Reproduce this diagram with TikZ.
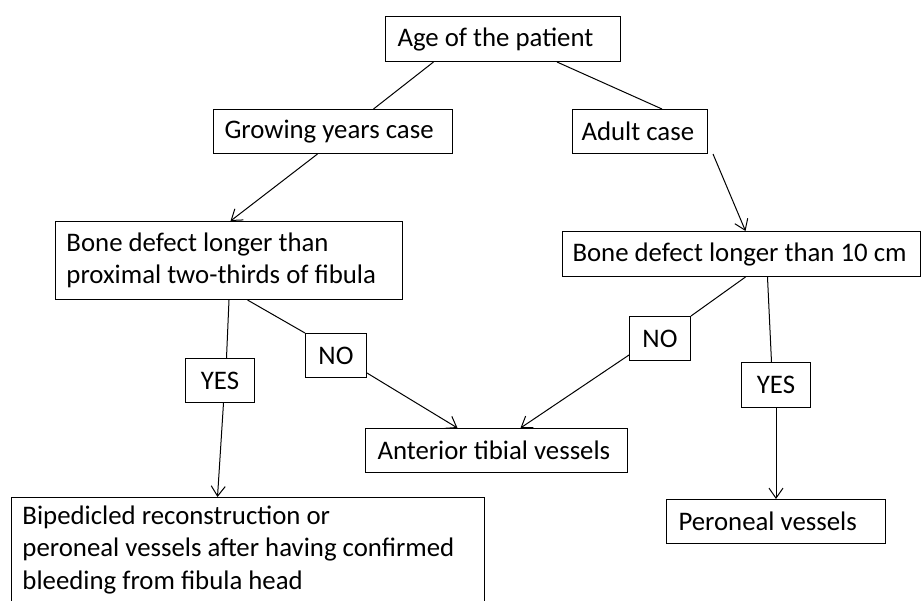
\documentclass[tikz,border=0pt]{standalone}
\usepackage{fontspec}
\setmainfont{Carlito}
\usetikzlibrary{arrows.meta}
\tikzset{
    block/.style={rectangle, draw, align=flush left, anchor=north west, inner xsep=6pt, inner ysep=4pt, minimum height=22pt, line width=0.5pt, font=\fontsize{13.4pt}{16.3pt}\selectfont},
    answer/.style={rectangle, draw, anchor=north west, inner sep=0pt, minimum width=30.5pt, minimum height=22pt, line width=0.5pt, font=\fontsize{13.4pt}{16.3pt}\selectfont},
    arrow/.style={-{Straight Barb[length=5pt, width=7pt]}},
    link/.style={line width=0.5pt},
}

\begin{document}
\begin{tikzpicture}[x=0.5pt, y=-0.5pt]

    \useasboundingbox (0,0) rectangle (923,601);
    \clip (0,0) rectangle (923,601);

    % Nodes
    \node[block, text width=105.5pt, minimum height=22.5pt] (age) at (385,16) {Age of the patient};
    \node[block, text width=108.5pt, inner xsep=5.5pt] (grow) at (213,109) {Growing years case};
    \node[block, text width=58.5pt, inner xsep=4.5pt] (adult) at (572,109) {Adult case};
    \node[block, text width=162.5pt, inner xsep=5.5pt, minimum height=39pt] (boneL) at (55,221) {Bone defect longer than\\proximal two-thirds of fibula};
    \node[block, text width=169pt, inner xsep=5pt, minimum height=22.5pt] (boneR) at (562,231) {Bone defect longer than 10 cm};
    \node[answer] (noL) at (305,333) {NO};
    \node[answer, minimum width=34.5pt] (yesL) at (185,358) {YES};
    \node[answer] (noR) at (629,316) {NO};
    \node[answer, minimum width=34.5pt, minimum height=22.5pt] (yesR) at (741,362) {YES};
    \node[block, text width=119pt] (ant) at (365,428) {Anterior tibial vessels};
    \node[block, text width=97.5pt] (per) at (666,499) {Peroneal vessels};
    \node[block, text width=225.5pt, inner xsep=5.5pt, text depth=50pt] (bip) at (11,497) {Bipedicled reconstruction or\\peroneal vessels after having confirmed\\bleeding from fibula head};

    % Arrows
    \draw[link] ([xshift=-34.75pt]age.south) -- ([xshift=20.25pt]grow.north);
    \draw[link] ([xshift=27pt]age.south) -- ([xshift=11pt]adult.north);
    \draw[link, arrow] ([xshift=-7.75pt]grow.south) -- ([xshift=0.75pt]boneL.north);
    \draw[link, arrow] ([xshift=36.5pt]adult.south) -- ([xshift=2pt]boneR.north);
    \draw[link] (boneL.south) -- ([xshift=3.25pt]yesL.north);
    \draw[link] ([xshift=9.25pt]boneL.south) -- (noL.north west);
    \draw[link, arrow] ([yshift=2.5pt]noL.south east) -- ([xshift=-19.5pt]ant.north);
    \draw[link] ([xshift=2pt]boneR.south) -- (noR.north east);
    \draw[link, arrow] ([yshift=3pt]noR.south west) -- ([xshift=12pt]ant.north);
    \draw[link] ([xshift=13pt]boneR.south) -- ([xshift=-2.25pt]yesR.north);
    \draw[link, arrow] (yesR.south) -- (per.north);
    \draw[link, arrow] ([xshift=1.75pt]yesL.south) -- ([xshift=-15.25pt]bip.north);

\end{tikzpicture}
\end{document}
